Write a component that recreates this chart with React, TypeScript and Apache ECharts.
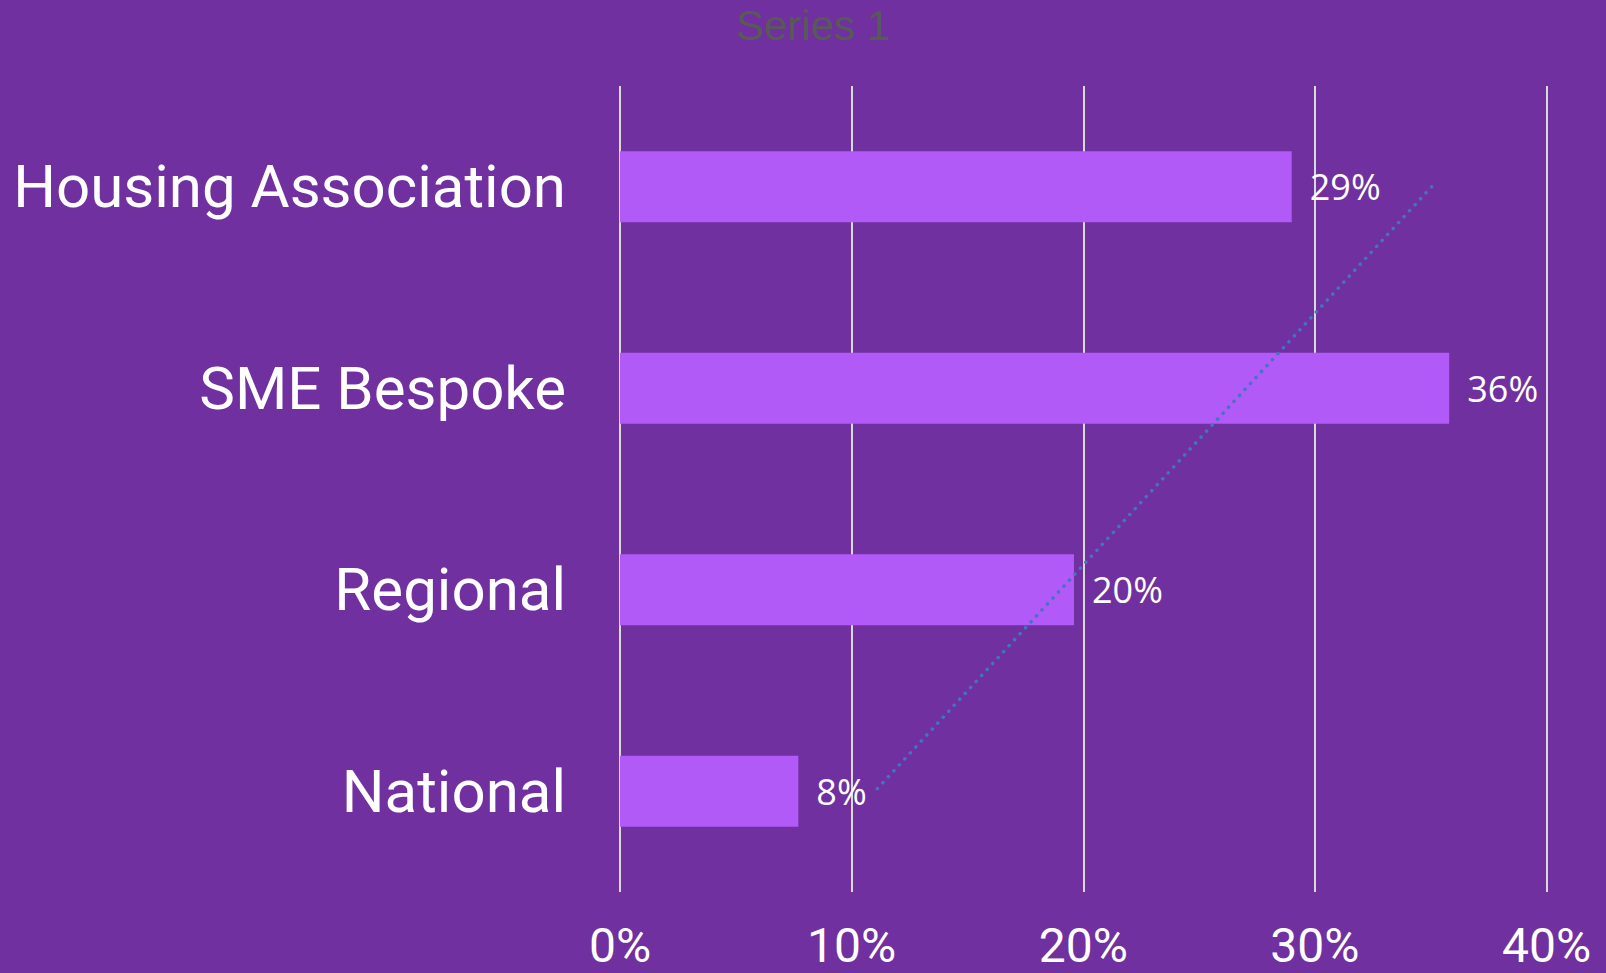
import React, { useEffect, useRef } from "react";
import * as echarts from "echarts";

const categories = ["Housing Association", "SME Bespoke", "Regional", "National"];
const values = [0.29, 0.358, 0.196, 0.077];
const xTicks = [0, 0.1, 0.2, 0.3, 0.4];
const seriesName = "Series 1";

function linearTrend(ys: number[]): number[] {
  const n = ys.length;
  const xs = ys.map((_, i) => i);
  const mx = xs.reduce((a, b) => a + b, 0) / n;
  const my = ys.reduce((a, b) => a + b, 0) / n;
  let num = 0;
  let den = 0;
  for (let i = 0; i < n; i++) {
    num += (xs[i] - mx) * (ys[i] - my);
    den += (xs[i] - mx) * (xs[i] - mx);
  }
  const slope = num / den;
  return xs.map((x) => my + slope * (x - mx));
}

export default function App() {
  const ref = useRef<HTMLDivElement>(null);
  useEffect(() => {
    if (!ref.current) return;
    const chart = echarts.init(ref.current, undefined, { renderer: "svg" });
    const trend = linearTrend(values);
    chart.setOption({
      animation: false,
      backgroundColor: "#7030A0",
      title: {
        text: seriesName,
        left: 813,
        top: 0,
        textAlign: "center",
        padding: 0,
        textStyle: {
          color: "#595959",
          fontFamily: "Liberation Sans",
          fontSize: 42,
          lineHeight: 50,
          fontWeight: "normal",
        },
      },
      grid: { left: 620, right: 59.5, top: 86, bottom: 81, containLabel: false },
      xAxis: {
        type: "value",
        min: xTicks[0],
        max: xTicks[xTicks.length - 1],
        interval: 0.1,
        axisLine: { show: false },
        axisTick: { show: false },
        splitLine: { show: true, lineStyle: { color: "#D9D9D9", width: 2 } },
        axisLabel: {
          color: "#FFFFFF",
          fontFamily: "Roboto",
          fontSize: 48,
          lineHeight: 48,
          margin: 29,
          formatter: (v: number) => Math.round(v * 100) + "%",
        },
      },
      yAxis: {
        type: "category",
        data: categories,
        inverse: true,
        axisLine: { show: false },
        axisTick: { show: false },
        axisLabel: {
          color: "#FFFFFF",
          fontFamily: "Roboto",
          fontSize: 60,
          margin: 54,
        },
      },
      series: [
        {
          name: seriesName,
          type: "bar",
          data: values,
          barWidth: 71,
          itemStyle: { color: "#B15AF7" },
          label: {
            show: true,
            position: "right",
            distance: 18,
            color: "#FFFFFF",
            fontFamily: "Open Sans",
            fontSize: 36,
            formatter: (p: any) => Math.round(p.value * 100) + "%",
          },
        },
        {
          name: "Trend",
          type: "line",
          data: trend,
          symbol: "none",
          silent: true,
          lineStyle: {
            color: "#4472C4",
            width: 3.5,
            type: [0.1, 8],
            cap: "round",
          },
        },
      ],
    });
    return () => chart.dispose();
  }, []);
  return (
    <div
      ref={ref}
      style={{ position: "absolute", left: 0, top: 0, width: 1606, height: 973 }}
    />
  );
}
